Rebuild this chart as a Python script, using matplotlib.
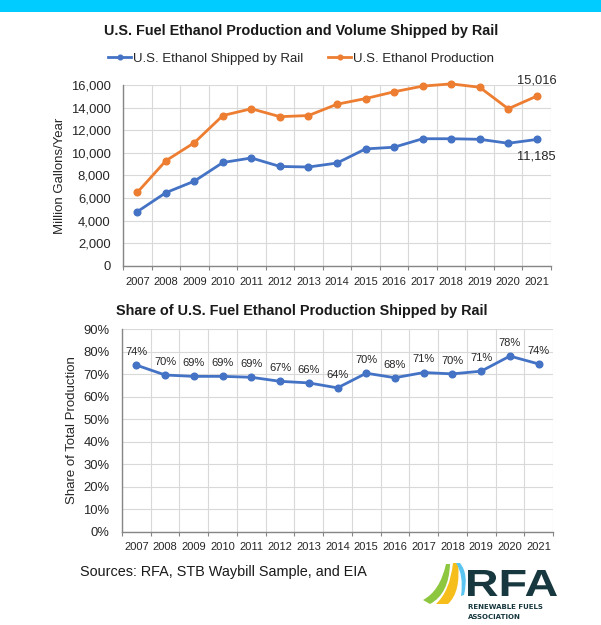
import matplotlib
matplotlib.use("Agg")
import matplotlib.pyplot as plt
import numpy as np
from matplotlib.font_manager import FontProperties
from matplotlib.patches import PathPatch, Rectangle
from matplotlib.path import Path
from matplotlib.textpath import TextPath
from matplotlib.ticker import FuncFormatter, MultipleLocator
import matplotlib.transforms as mtransforms

plt.rcParams["font.family"] = ["Liberation Sans", "DejaVu Sans"]

years = [2007, 2008, 2009, 2010, 2011, 2012, 2013, 2014, 2015, 2016, 2017, 2018, 2019, 2020, 2021]
production = [6500, 9300, 10900, 13300, 13900, 13200, 13300, 14300, 14800, 15400, 15900, 16100, 15800, 13900, 15016]
rail = [4800, 6480, 7500, 9150, 9550, 8800, 8750, 9100, 10350, 10500, 11250, 11250, 11200, 10850, 11185]
share = [74.0, 69.6, 69.0, 69.0, 68.6, 66.8, 66.1, 63.9, 70.4, 68.4, 70.7, 70.1, 71.3, 78.0, 74.5]
share_labels = ["74%", "70%", "69%", "69%", "69%", "67%", "66%", "64%", "70%", "68%", "71%", "70%", "71%", "78%", "74%"]

BLUE = "#4472C4"
ORANGE = "#ED7D31"
GRID = "#d9d9d9"
AXIS = "#868686"
W, H = 601, 625


def fx(px):
    return px / W


def fy(py):
    return 1 - py / H


def style_axes(ax):
    x = np.arange(len(years))
    ax.set_xlim(-0.5, len(years) - 0.5)
    ax.set_xticks(x)
    ax.set_xticklabels([str(y) for y in years], fontsize=8)
    ax.set_xticks(np.arange(-0.5, len(years)), minor=True)
    ax.grid(True, which="minor", axis="x", color=GRID, lw=0.8)
    ax.grid(True, which="major", axis="y", color=GRID, lw=0.8)
    ax.set_axisbelow(True)
    for s in ("top", "right"):
        ax.spines[s].set_visible(False)
    for s in ("left", "bottom"):
        ax.spines[s].set_color(AXIS)
        ax.spines[s].set_linewidth(1.0)
    ax.tick_params(axis="x", which="major", length=0, pad=8, colors="#262626")
    ax.tick_params(axis="x", which="minor", length=3, color=AXIS, width=0.8)
    ax.tick_params(axis="y", length=0, pad=9, labelsize=9.4, colors="#262626")
    return x


fig = plt.figure(figsize=(W / 100, H / 100), dpi=100)
fig.patch.set_facecolor("white")

# cyan band along the top
fig.add_artist(Rectangle((0, fy(12)), 1, 12 / H, transform=fig.transFigure,
                         color="#00CCFF", lw=0))

# top chart
ax1 = fig.add_axes([fx(123), fy(266), fx(428), 181 / H])
x = style_axes(ax1)
l1, = ax1.plot(x, rail, color=BLUE, lw=2, marker="o", ms=4.8, clip_on=False,
               label="U.S. Ethanol Shipped by Rail")
l2, = ax1.plot(x, production, color=ORANGE, lw=2, marker="o", ms=4.8, clip_on=False,
               label="U.S. Ethanol Production")
ax1.set_ylim(0, 16000)
ax1.yaxis.set_major_locator(MultipleLocator(2000))
ax1.yaxis.set_major_formatter(FuncFormatter(lambda v, p: f"{v:,.0f}"))
ax1.set_ylabel("Million Gallons/Year", fontsize=9.5, color="#262626")
ax1.yaxis.set_label_coords(-0.133, 0.5)
ax1.annotate(f"{production[-1]:,}", (x[-1], production[-1]), xytext=(0, 11),
             textcoords="offset points", ha="center", va="center", fontsize=9.3,
             color="#262626")
ax1.annotate(f"{rail[-1]:,}", (x[-1], rail[-1]), xytext=(0, -12),
             textcoords="offset points", ha="center", va="center", fontsize=9.3,
             color="#262626")

fig.text(fx(301), fy(31.5), "U.S. Fuel Ethanol Production and Volume Shipped by Rail",
         ha="center", va="center", fontsize=10.4, fontweight="bold", color="#1a1a1a")
fig.legend(handles=[l1, l2], loc="center", bbox_to_anchor=(fx(301), fy(58.5)),
           ncol=2, frameon=False, fontsize=9.5, handlelength=1.75,
           handletextpad=0.12, columnspacing=1.9, markerscale=0.7,
           labelcolor="#262626")

# bottom chart
ax2 = fig.add_axes([fx(122), fy(532), fx(431), 203 / H])
x = style_axes(ax2)
ax2.tick_params(axis="x", which="major", pad=7)
ax2.plot(x, share, color=BLUE, lw=2, marker="o", ms=4.8)
ax2.set_ylim(0, 90)
ax2.yaxis.set_major_locator(MultipleLocator(10))
ax2.yaxis.set_major_formatter(FuncFormatter(lambda v, p: f"{v:.0f}%"))
ax2.set_ylabel("Share of Total Production", fontsize=9.5, color="#262626")
ax2.yaxis.set_label_coords(-0.101, 0.5)
for xi, v, lab in zip(x, share, share_labels):
    ax2.annotate(lab, (xi, v), xytext=(0, 9.5), textcoords="offset points",
                 ha="center", va="center", fontsize=8, color="#262626")

fig.text(fx(302), fy(311.5), "Share of U.S. Fuel Ethanol Production Shipped by Rail",
         ha="center", va="center", fontsize=10.4, fontweight="bold", color="#1a1a1a")

fig.text(fx(80), fy(572), "Sources: RFA, STB Waybill Sample, and EIA",
         ha="left", va="center", fontsize=10.4, color="#1a1a1a")

# RFA logo, drawn in pixel coordinates (y measured from the top)
lg = fig.add_axes([0, 0, 1, 1])
lg.set_xlim(0, W)
lg.set_ylim(0, H)
lg.axis("off")


def band(pts, color):
    verts = [(px, H - py) for px, py in pts]
    codes = [Path.MOVETO, Path.CURVE3, Path.CURVE3, Path.LINETO,
             Path.CURVE3, Path.CURVE3, Path.CLOSEPOLY]
    verts.append(verts[0])
    lg.add_patch(PathPatch(Path(verts, codes), color=color, lw=0))


band([(423, 600), (440, 591), (446, 564), (450, 564), (449, 594), (430, 604)], "#8DC63F")
band([(436, 604), (450, 591), (453, 563), (458, 563), (461, 592), (448, 604)], "#F6BE1A")
band([(456, 563), (464, 575), (461, 596), (464, 595), (469, 574), (460, 563)], "#5BC5F2")

tp = TextPath((0, 0), "RFA", prop=FontProperties(family="Liberation Sans", weight="bold"))
bb = tp.get_extents()
tr = (mtransforms.Affine2D()
      .translate(-bb.x0, -bb.y0)
      .scale(89 / bb.width, 26 / bb.height)
      .translate(468, H - 596))
lg.add_patch(PathPatch(tr.transform_path(tp), color="#17383F", lw=0))
lg.text(468, H - 607, "RENEWABLE FUELS", fontsize=5, fontweight="bold",
        color="#17383F", va="center", ha="left", family="DejaVu Sans")
lg.text(468, H - 617, "ASSOCIATION", fontsize=5, fontweight="bold",
        color="#17383F", va="center", ha="left", family="DejaVu Sans")

fig.savefig("out.png", dpi=100)
